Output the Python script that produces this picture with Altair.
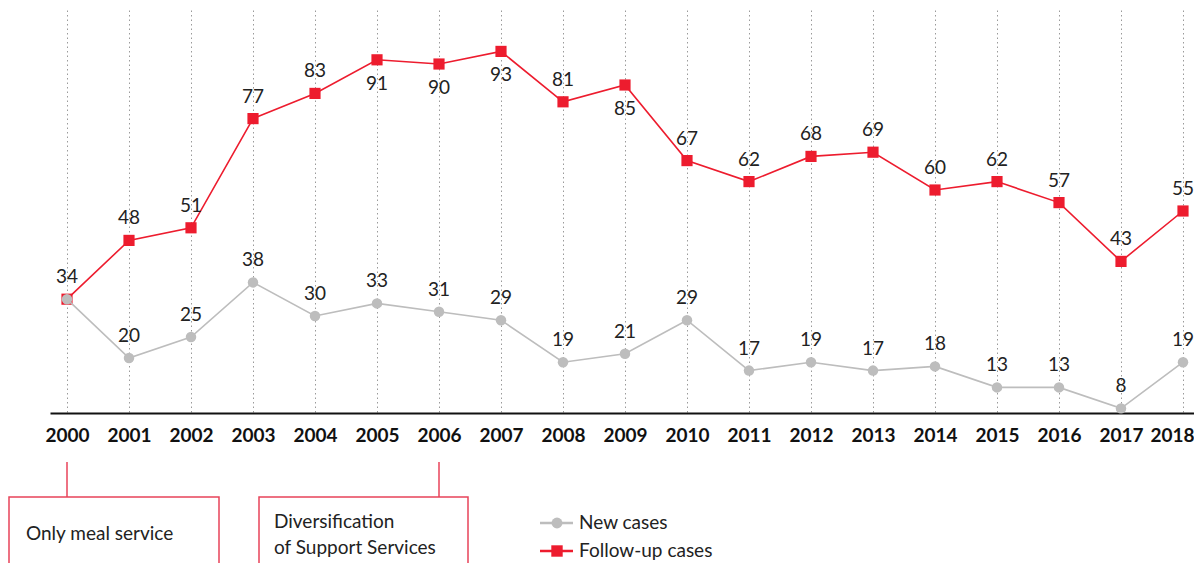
import altair as alt
import pandas as pd

years = list(range(2000, 2019))
new_cases = [34, 20, 25, 38, 30, 33, 31, 29, 19, 21, 29, 17, 19, 17, 18, 13, 13, 8, 19]
follow_cases = [34, 48, 51, 77, 83, 91, 90, 93, 81, 85, 67, 62, 68, 69, 60, 62, 57, 43, 55]
below_label_years = [2005, 2006, 2007, 2009]
annot_years = [2000, 2006]
annot_texts = ["Only meal service", "Diversification\nof Support Services"]
legend_labels = ["New cases", "Follow-up cases"]

RED = "#ED1C2E"
GRAY = "#BDBDBD"
BOXRED = "#E8435A"
FONT = "Lato"
TXT = "#222222"

df = pd.DataFrame({"year": years, "new": new_cases, "follow": follow_cases})

xs = alt.Scale(domain=[1999.7258, 2018.1774], nice=False, zero=False)
ys = alt.Scale(domain=[6.9, 102.86], nice=False, zero=False)

X = alt.X("year:Q", scale=xs, axis=alt.Axis(
    values=years, format="d", title=None, grid=True, gridDash=[1.5, 3],
    gridColor="#9a9a9a", gridWidth=1, ticks=False, domain=True,
    domainColor="#111111", domainWidth=2, labelFont=FONT, labelFontSize=19,
    labelFontWeight="bold", labelColor="#111111", labelPadding=13,
    labelFlush=12, labelFlushOffset=11))

base = alt.Chart(df)

follow_line = base.mark_line(color=RED, strokeWidth=1.6).encode(
    x=X, y=alt.Y("follow:Q", scale=ys, axis=None))
follow_pts = base.mark_square(color=RED, size=125, opacity=1).encode(
    x=alt.X("year:Q", scale=xs), y=alt.Y("follow:Q", scale=ys))
new_line = base.mark_line(color=GRAY, strokeWidth=1.6).encode(
    x=alt.X("year:Q", scale=xs), y=alt.Y("new:Q", scale=ys))
new_pts = base.mark_circle(color=GRAY, size=110, opacity=1).encode(
    x=alt.X("year:Q", scale=xs), y=alt.Y("new:Q", scale=ys))

below_expr = "indexof(" + str(below_label_years) + ", datum.year) >= 0"
above_expr = "indexof(" + str(below_label_years) + ", datum.year) < 0"

txt_kw = dict(font=FONT, fontSize=19, color=TXT, baseline="middle", align="center")
follow_above = base.transform_filter(above_expr).mark_text(dy=-22, **txt_kw).encode(
    x=alt.X("year:Q", scale=xs), y=alt.Y("follow:Q", scale=ys), text="follow:Q")
follow_below = base.transform_filter(below_expr).mark_text(dy=24, **txt_kw).encode(
    x=alt.X("year:Q", scale=xs), y=alt.Y("follow:Q", scale=ys), text="follow:Q")
new_labels = base.transform_filter("datum.new != datum.follow").mark_text(dy=-22, **txt_kw).encode(
    x=alt.X("year:Q", scale=xs), y=alt.Y("new:Q", scale=ys), text="new:Q")

ann_df = pd.DataFrame({"year": annot_years, "text": annot_texts})
connectors = alt.Chart(ann_df).mark_rule(color=BOXRED, strokeWidth=1.5).encode(
    x=alt.X("year:Q", scale=xs), y=alt.value(452), y2=alt.value(487))

one = pd.DataFrame({"k": [0]})
box1 = alt.Chart(one).mark_rect(fillOpacity=0, stroke=BOXRED, strokeWidth=1.5).encode(
    x=alt.value(-41), x2=alt.value(169), y=alt.value(487), y2=alt.value(620))
box2 = alt.Chart(one).mark_rect(fillOpacity=0, stroke=BOXRED, strokeWidth=1.5).encode(
    x=alt.value(209), x2=alt.value(418), y=alt.value(487), y2=alt.value(620))

ann_kw = dict(font=FONT, fontSize=19, color=TXT, baseline="middle", align="left")
t1 = alt.Chart(pd.DataFrame({"text": [annot_texts[0]]})).mark_text(**ann_kw).encode(
    x=alt.value(-24), y=alt.value(524), text="text:N")
t2 = alt.Chart(pd.DataFrame({"text": [annot_texts[1]]})).mark_text(
    lineBreak="\n", lineHeight=26, **ann_kw).encode(
    x=alt.value(224), y=alt.value(512), text="text:N")

leg_line1 = alt.Chart(one).mark_rule(color=GRAY, strokeWidth=2.5).encode(
    x=alt.value(490), x2=alt.value(523), y=alt.value(513))
leg_pt1 = alt.Chart(one).mark_circle(color=GRAY, size=120, opacity=1).encode(
    x=alt.value(507), y=alt.value(513))
leg_line2 = alt.Chart(one).mark_rule(color=RED, strokeWidth=2.5).encode(
    x=alt.value(490), x2=alt.value(523), y=alt.value(541))
leg_pt2 = alt.Chart(one).mark_square(color=RED, size=130, opacity=1).encode(
    x=alt.value(507), y=alt.value(541))
leg_t1 = alt.Chart(pd.DataFrame({"text": [legend_labels[0]]})).mark_text(**ann_kw).encode(
    x=alt.value(529), y=alt.value(513), text="text:N")
leg_t2 = alt.Chart(pd.DataFrame({"text": [legend_labels[1]]})).mark_text(**ann_kw).encode(
    x=alt.value(529), y=alt.value(541), text="text:N")

chart = alt.layer(
    follow_line, follow_pts, new_line, new_pts, follow_above, follow_below, new_labels,
    connectors, box1, box2, t1, t2, leg_line1, leg_pt1, leg_line2, leg_pt2, leg_t1, leg_t2
).properties(
    width=1144, height=403,
    autosize=alt.AutoSizeParams(type="none"),
    padding={"left": 42, "top": 2, "right": 0, "bottom": 150},
).configure_view(stroke=None)

chart.save("out.html", embed_options={"renderer": "svg", "actions": False})
